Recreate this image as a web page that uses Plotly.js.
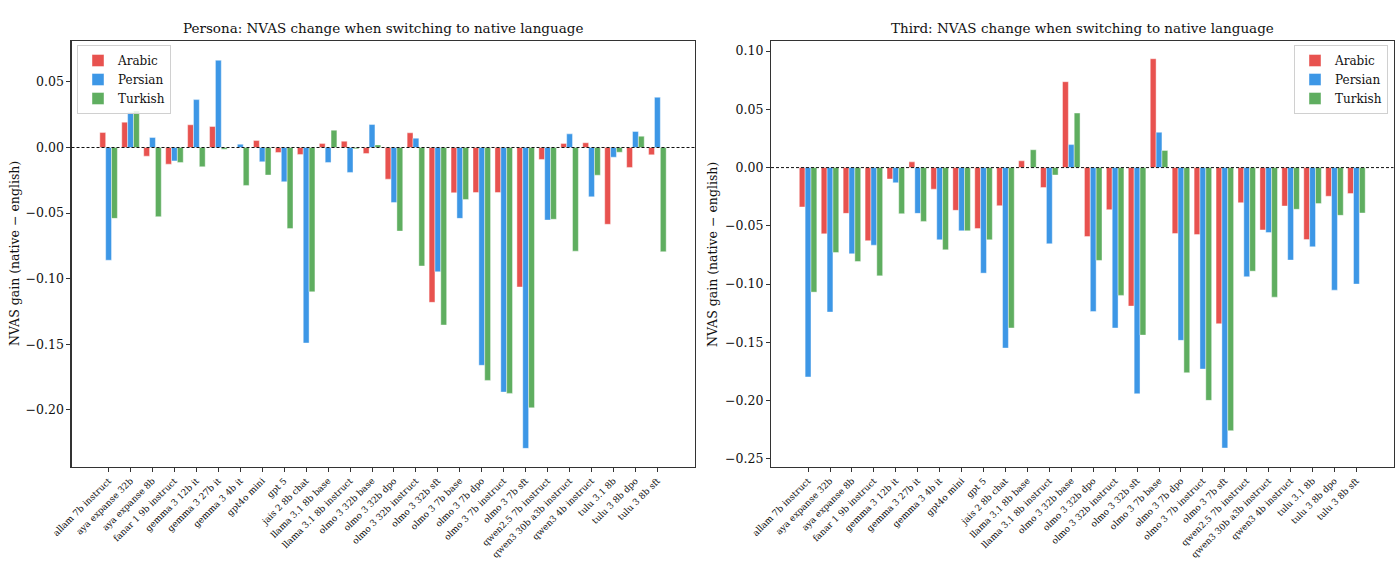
<!DOCTYPE html>
<html>
<head>
<meta charset="utf-8">
<script src="https://cdn.plot.ly/plotly-3.0.1.min.js"></script>
<style>
  html, body { margin: 0; padding: 0; background: #fff; }
  #chart { width: 1400px; height: 565px; }
</style>
</head>
<body>
<div id="chart"></div>
<script>
// Models evaluated (x-axis categories)
const models = [
  "allam 7b instruct", "aya expanse 32b", "aya expanse 8b", "fanar 1 9b instruct",
  "gemma 3 12b it", "gemma 3 27b it", "gemma 3 4b it", "gpt4o mini", "gpt 5",
  "jais 2 8b chat", "llama 3.1 8b base", "llama 3.1 8b instruct",
  "olmo 3 32b base", "olmo 3 32b dpo", "olmo 3 32b instruct", "olmo 3 32b sft",
  "olmo 3 7b base", "olmo 3 7b dpo", "olmo 3 7b instruct", "olmo 3 7b sft",
  "qwen2.5 7b instruct", "qwen3 30b a3b instruct", "qwen3 4b instruct",
  "tulu 3.1 8b", "tulu 3 8b dpo", "tulu 3 8b sft"
];

// Persona setting: NVAS gain (native - english)
const personaArabic = [
  0.0114, 0.0193, -0.0066, -0.0127, 0.0173, 0.0160, 0.0000, 0.0053, -0.0038,
  -0.0053, 0.0030, 0.0048, -0.0046, -0.0241, 0.0112, -0.1180,
  -0.0345, -0.0343, -0.0343, -0.1063, -0.0091, 0.0030, 0.0036,
  -0.0585, -0.0152, -0.0056
];
const personaPersian = [
  -0.0859, 0.0269, 0.0076, -0.0102, 0.0365, 0.0665, 0.0025, -0.0109, -0.0261,
  -0.1490, -0.0114, -0.0190, 0.0175, -0.0419, 0.0071, -0.0947,
  -0.0540, -0.1660, -0.1864, -0.2293, -0.0553, 0.0104, -0.0376,
  -0.0074, 0.0122, 0.0383
];
const personaTurkish = [
  -0.0540, 0.0279, -0.0527, -0.0114, -0.0147, -0.0013, -0.0289, -0.0210, -0.0617,
  -0.1100, 0.0132, -0.0010, 0.0020, -0.0637, -0.0903, -0.1353,
  -0.0396, -0.1775, -0.1874, -0.1984, -0.0547, -0.0790, -0.0211,
  -0.0036, 0.0086, -0.0794
];

// Third-person setting: NVAS gain (native - english)
const thirdArabic = [
  -0.0338, -0.0569, -0.0393, -0.0627, -0.0098, 0.0049, -0.0185, -0.0367, -0.0523,
  -0.0327, 0.0058, -0.0171, 0.0737, -0.0592, -0.0361, -0.1189,
  0.0934, -0.0566, -0.0575, -0.1340, -0.0301, -0.0535, -0.0330,
  -0.0618, -0.0246, -0.0223
];
const thirdPersian = [
  -0.1797, -0.1240, -0.0740, -0.0666, -0.0130, -0.0393, -0.0620, -0.0543, -0.0906,
  -0.1549, 0.0000, -0.0654, 0.0197, -0.1235, -0.1377, -0.1941,
  0.0303, -0.1483, -0.1729, -0.2407, -0.0937, -0.0558, -0.0794,
  -0.0680, -0.1052, -0.1000
];
const thirdTurkish = [
  -0.1069, -0.0729, -0.0806, -0.0929, -0.0396, -0.0462, -0.0706, -0.0543, -0.0620,
  -0.1377, 0.0153, -0.0064, 0.0468, -0.0797, -0.1097, -0.1438,
  0.0147, -0.1761, -0.1998, -0.2258, -0.0889, -0.1112, -0.0358,
  -0.0309, -0.0410, -0.0390
];

const languages = ["Arabic", "Persian", "Turkish"];
const colors = { Arabic: "#e8524f", Persian: "#3d97e6", Turkish: "#5fae60" };

const serif = "DejaVu Serif, serif";
const edge = { color: "rgba(255,255,255,0.7)", width: 0.6 };

function barTrace(lang, values, xa, ya, legendName) {
  return {
    type: "bar",
    name: lang,
    x: models,
    y: values,
    xaxis: xa,
    yaxis: ya,
    legend: legendName,
    marker: { color: colors[lang], line: edge },
    hoverinfo: "x+y+name"
  };
}

const personaSeries = [personaArabic, personaPersian, personaTurkish];
const thirdSeries = [thirdArabic, thirdPersian, thirdTurkish];

const traces = [];
languages.forEach((lang, i) => traces.push(barTrace(lang, personaSeries[i], "x", "y", "legend")));
languages.forEach((lang, i) => traces.push(barTrace(lang, thirdSeries[i], "x2", "y2", "legend2")));

const W = 1400, H = 565;
const plotTop = 40.7, plotBottom = 467;
const yDom = [(H - plotBottom) / H, (H - plotTop) / H];
const leftDom = [71.5 / W, 694.5 / W];
const rightDom = [771 / W, 1393.5 / W];
const nCat = models.length;
const xRange = [-1.69, nCat - 1 + 1.69];

function xAxis(domain, anchor) {
  return {
    domain: domain,
    anchor: anchor,
    type: "category",
    range: xRange,
    tickangle: -45,
    tickfont: { family: serif, size: 9, color: "#111" },
    ticks: "outside",
    ticklen: 4,
    tickcolor: "#333",
    showline: true,
    mirror: true,
    linecolor: "#333",
    linewidth: 1.1,
    showgrid: false,
    zeroline: false,
    automargin: false
  };
}

function yAxis(domain, anchor, range) {
  return {
    domain: domain,
    anchor: anchor,
    range: range,
    dtick: 0.05,
    tick0: 0,
    tickformat: ".2f",
    tickfont: { family: serif, size: 12.5, color: "#111" },
    ticks: "outside",
    ticklen: 4,
    tickcolor: "#333",
    showline: true,
    mirror: true,
    linecolor: "#333",
    linewidth: 1.1,
    showgrid: false,
    zeroline: false,
    automargin: false
  };
}

const legendStyle = {
  font: { family: serif, size: 12, color: "#111" },
  bgcolor: "rgba(255,255,255,0.85)",
  bordercolor: "#d0d0d0",
  borderwidth: 1,
  tracegroupgap: 0,
  itemwidth: 30
};

const layout = {
  width: W,
  height: H,
  margin: { l: 0, r: 0, t: 0, b: 0 },
  paper_bgcolor: "#fff",
  plot_bgcolor: "#fff",
  barmode: "group",
  bargap: 0.2,
  bargroupgap: 0,
  showlegend: true,
  xaxis: xAxis(leftDom, "y"),
  yaxis: yAxis(yDom, "x", [-0.2435, 0.0814]),
  xaxis2: xAxis(rightDom, "y2"),
  yaxis2: yAxis(yDom, "x2", [-0.257, 0.1089]),
  legend: Object.assign({ x: 77 / W, y: (H - 45) / H, xanchor: "left", yanchor: "top" }, legendStyle),
  legend2: Object.assign({ x: 1388 / W, y: (H - 45) / H, xanchor: "right", yanchor: "top" }, legendStyle),
  shapes: [
    { type: "line", xref: "x domain", yref: "y", x0: 0, x1: 1, y0: 0, y1: 0,
      line: { color: "#111", width: 1, dash: "3px,2px" }, layer: "above" },
    { type: "line", xref: "x2 domain", yref: "y2", x0: 0, x1: 1, y0: 0, y1: 0,
      line: { color: "#111", width: 1, dash: "3px,2px" }, layer: "above" }
  ],
  annotations: [
    { text: "Persona: NVAS change when switching to native language",
      xref: "paper", yref: "paper", x: (leftDom[0] + leftDom[1]) / 2, y: (H - 28) / H,
      xanchor: "center", yanchor: "middle", showarrow: false,
      font: { family: serif, size: 13.5, color: "#111" } },
    { text: "Third: NVAS change when switching to native language",
      xref: "paper", yref: "paper", x: (rightDom[0] + rightDom[1]) / 2, y: (H - 28) / H,
      xanchor: "center", yanchor: "middle", showarrow: false,
      font: { family: serif, size: 13.5, color: "#111" } },
    { text: "NVAS gain (native − english)",
      xref: "paper", yref: "paper", x: 15 / W, y: (H - 254) / H,
      xanchor: "center", yanchor: "middle", textangle: -90, showarrow: false,
      font: { family: serif, size: 12.5, color: "#111" } },
    { text: "NVAS gain (native − english)",
      xref: "paper", yref: "paper", x: 713 / W, y: (H - 254) / H,
      xanchor: "center", yanchor: "middle", textangle: -90, showarrow: false,
      font: { family: serif, size: 12.5, color: "#111" } }
  ]
};

Plotly.newPlot("chart", traces, layout, { displayModeBar: false, staticPlot: true });
</script>
</body>
</html>
